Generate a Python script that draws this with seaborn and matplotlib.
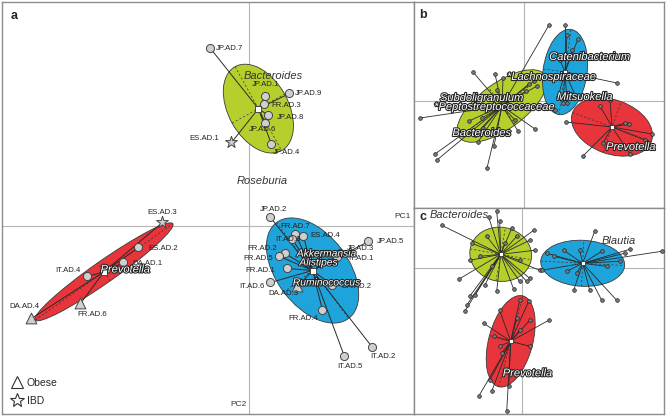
import numpy as np
import pandas as pd
import matplotlib
matplotlib.use("Agg")
import matplotlib.pyplot as plt
import seaborn as sns
from matplotlib.patches import Ellipse
from matplotlib.lines import Line2D
from matplotlib.collections import LineCollection
import matplotlib.patheffects as pe

sns.set_style("white")
plt.rcParams["font.family"] = ["Liberation Sans", "DejaVu Sans"]

GREEN = "#b7cf2c"
BLUE = "#1ea4da"
RED = "#e8343b"

# ---------------- panel a: individual samples (PC1, PC2) ----------------
bac_ids = ["JP.AD.7", "JP.AD.1", "JP.AD.9", "FR.AD.3", "JP.AD.8", "JP.AD.6", "JP.AD.4", "ES.AD.1"]
bac_pc1 = [-0.38, 0.17, 0.41, 0.16, 0.20, 0.17, 0.23, -0.17]
bac_pc2 = [1.78, 1.30, 1.33, 1.22, 1.11, 1.03, 0.82, 0.84]
bac_pheno = ["none", "none", "none", "none", "none", "none", "none", "IBD"]

prev_ids = ["ES.AD.3", "ES.AD.2", "DA.AD.1", "IT.AD.4", "FR.AD.6", "DA.AD.4"]
prev_pc1 = [-0.86, -1.10, -1.25, -1.61, -1.68, -2.17]
prev_pc2 = [0.04, -0.21, -0.36, -0.50, -0.77, -0.92]
prev_pheno = ["IBD", "none", "none", "none", "obese", "obese"]

rum_ids = ["JP.AD.2", "FR.AD.7", "IT.AD.3", "ES.AD.4", "JP.AD.5", "JP.AD.3", "IT.AD.1", "FR.AD.2",
           "FR.AD.5", "FR.AD.1", "IT.AD.6", "DA.AD.3", "DA.AD.2", "FR.AD.4", "IT.AD.5", "IT.AD.2"]
rum_pc1 = [0.22, 0.47, 0.44, 0.55, 1.20, 0.92, 0.89, 0.37, 0.31, 0.39, 0.22, 0.49, 0.84, 0.74, 0.96, 1.24]
rum_pc2 = [0.09, -0.08, -0.13, -0.10, -0.15, -0.27, -0.31, -0.27, -0.30, -0.42, -0.56, -0.60,
           -0.59, -0.84, -1.30, -1.21]
rum_pheno = ["none"] * 11 + ["obese"] + ["none"] * 4

# ellipse spread per enterotype (semi axes, angle in degrees)
a_major = [0.48, 0.84, 0.60]
a_minor = [0.30, 0.11, 0.36]
a_angle = [-61, 35, -53]

# ---------------- panel b ----------------
b_bac_x = [0.25, -0.51, -1.04, -0.89, -0.87, -0.37, 0.11, -0.06, -0.46, -0.29, -0.21, -0.42, -0.09,
           -0.27, 0.31, -0.41, -0.49, 0.05, 0.10, 0.13, 0.02, -0.05, -0.60, -0.55, -0.30]
b_bac_y = [0.76, 0.29, -0.17, -0.53, -0.59, -0.67, -0.28, -0.30, -0.41, 0.27, 0.23, -0.17, -0.19,
           0.11, -0.09, -0.27, -0.34, 0.17, 0.20, 0.15, 0.10, 0.05, -0.05, -0.20, -0.45]
b_blu_x = [0.41, 0.43, 0.54, 0.93, 0.39, 0.43, 0.29, 0.34, 0.48, 0.36, 0.51]
b_blu_y = [0.76, 0.66, 0.62, 0.18, -0.02, -0.02, 0.23, 0.04, 0.51, 0.41, 0.06]
b_red_x = [0.42, 0.59, 1.06, 1.28, 1.01, 1.05, 0.86, 0.76, 0.79, 1.21]
b_red_y = [-0.21, -0.55, -0.53, -0.33, -0.22, -0.23, 0.01, -0.05, -0.42, -0.39]
b_centroid = [(-0.22, -0.05), (0.41, 0.29), (0.88, -0.26)]
b_major = [0.53, 0.43, 0.42]
b_minor = [0.23, 0.22, 0.27]
b_angle = [36, 82, -20]

# ---------------- panel c ----------------
c_bac_x = [-0.25, -0.33, -0.80, -0.22, -0.10, 0.12, 0.08, 0.13, 0.18, 0.08, 0.05, -0.02, -0.08, -0.25,
           -0.37, -0.47, -0.52, -0.55, -0.57, -0.63, -0.52, -0.50, -0.17, -0.30, -0.42, -0.02, -0.05, -0.35]
c_bac_y = [0.57, 0.51, 0.43, 0.47, 0.40, 0.38, 0.28, 0.18, -0.02, -0.10, -0.13, -0.13, -0.21, -0.23,
           -0.17, -0.27, -0.28, -0.37, -0.43, -0.11, 0.08, 0.25, 0.25, 0.02, 0.12, 0.08, 0.32, 0.32]
c_blu_x = [0.73, 1.08, 1.40, 1.03, 0.98, 0.80, 0.95, 0.52, 0.68, 0.42, 0.32, 0.20, 0.45, 0.55,
           0.85, 0.80, 0.58, 0.25]
c_blu_y = [0.37, 0.19, 0.17, 0.15, 0.07, -0.32, -0.32, -0.22, -0.22, 0.18, 0.12, -0.02, -0.03, -0.05,
           0.02, 0.17, 0.18, 0.15]
c_red_x = [-0.38, 0.27, -0.02, 0.07, -0.22, -0.05, -0.43, -0.30, -0.15, -0.13, -0.32, 0.08, -0.22,
           -0.20, -0.02, 0.08, -0.28]
c_red_y = [-0.55, -0.52, -0.32, -0.33, -0.42, -0.50, -1.28, -1.23, -1.43, -1.18, -1.12, -0.52, -0.78,
           -0.85, -0.62, -0.78, -0.68]
c_centroid = [(-0.21, 0.14), (0.61, 0.05), (-0.11, -0.73)]
c_major = [0.31, 0.42, 0.47]
c_minor = [0.27, 0.23, 0.22]
c_angle = [-10, -3, 75]

# label placement for panel a samples: (dx px, dy px, ha)
LABEL_POS = {
    "JP.AD.7": (5, 0, "left"), "JP.AD.1": (0, 12, "center"), "JP.AD.9": (5, 0, "left"),
    "FR.AD.3": (7, -1, "left"), "JP.AD.8": (8, -2, "left"), "JP.AD.6": (-3, -6, "center"),
    "JP.AD.4": (1, -8, "left"), "ES.AD.1": (-12, 4, "right"),
    "ES.AD.3": (0, 10, "center"), "ES.AD.2": (10, -1, "left"), "DA.AD.1": (9, -1, "left"),
    "IT.AD.4": (-7, 6, "right"), "FR.AD.6": (-3, -11, "left"), "DA.AD.4": (-7, 12, "center"),
    "JP.AD.2": (3, 8, "center"), "FR.AD.7": (0, 8, "center"), "IT.AD.3": (8, 0, "right"),
    "ES.AD.4": (7, 1, "left"), "JP.AD.5": (8, 0, "left"), "JP.AD.3": (6, 5, "left"),
    "IT.AD.1": (11, -1, "left"), "FR.AD.2": (-8, 5, "right"), "FR.AD.5": (-7, -2, "right"),
    "FR.AD.1": (-12, -2, "right"), "IT.AD.6": (-6, -4, "right"), "DA.AD.3": (-14, -7, "center"),
    "DA.AD.2": (9, -1, "left"), "FR.AD.4": (-4, -8, "right"), "IT.AD.5": (5, -10, "center"),
    "IT.AD.2": (-2, -9, "left"),
}


def setup(ax, xlim, ylim):
    ax.set_xlim(*xlim)
    ax.set_ylim(*ylim)
    ax.set_xticks([])
    ax.set_yticks([])
    ax.set_xlabel("")
    ax.set_ylabel("")
    ax.axhline(0, color="#b5b5b5", lw=0.8, zorder=0)
    ax.axvline(0, color="#b5b5b5", lw=0.8, zorder=0)
    for s in ax.spines.values():
        s.set_color("#8c8c8c")
        s.set_linewidth(1.0)


def cluster(ax, cx, cy, xs, ys, major, minor, angle, color, lw=0.7, csize=20):
    e = Ellipse((cx, cy), 2 * major, 2 * minor, angle=angle, facecolor=color,
                edgecolor="#3a3a3a", lw=0.6, zorder=1)
    ax.add_patch(e)
    t = np.deg2rad(angle)
    for r, th in [(major, t), (minor, t + np.pi / 2)]:
        ax.plot([cx - r * np.cos(th), cx + r * np.cos(th)], [cy - r * np.sin(th), cy + r * np.sin(th)],
                ls=(0, (3, 3)), color="#333333", lw=0.5, zorder=2)
    segs = [[(cx, cy), (x, y)] for x, y in zip(xs, ys)]
    ax.add_collection(LineCollection(segs, colors="#2a2a2a", linewidths=lw, zorder=3))
    ax.scatter([cx], [cy], marker="s", s=csize, facecolor="white", edgecolor="#333333",
               linewidth=0.6, zorder=6)


def halo(ax, x, y, s, size=8, ha="center"):
    ax.text(x, y, s, fontsize=size, fontstyle="italic", color="white", ha=ha, va="center", zorder=8,
            path_effects=[pe.withStroke(linewidth=1.5, foreground="#222222")])


fig = plt.figure(figsize=(6.66, 4.18), dpi=100)
W, H = 666, 418
ax_a = fig.add_axes([2 / W, 4 / H, 412 / W, 412 / H])
ax_b = fig.add_axes([414 / W, 210 / H, 250 / W, 206 / H])
ax_c = fig.add_axes([414 / W, 4 / H, 250 / W, 206 / H])

# ---- panel a
setup(ax_a, (-2.465, 1.655), (-1.875, 2.245))
groups = [(bac_ids, bac_pc1, bac_pc2, bac_pheno, GREEN),
          (prev_ids, prev_pc1, prev_pc2, prev_pheno, RED),
          (rum_ids, rum_pc1, rum_pc2, rum_pheno, BLUE)]
frames = []
for i, (ids, xs, ys, ph, col) in enumerate(groups):
    cx, cy = np.mean(xs), np.mean(ys)
    cluster(ax_a, cx, cy, xs, ys, a_major[i], a_minor[i], a_angle[i], col)
    frames.append(pd.DataFrame({"id": ids, "pc1": xs, "pc2": ys, "pheno": ph}))
df_a = pd.concat(frames, ignore_index=True)
sns.scatterplot(data=df_a, x="pc1", y="pc2", style="pheno", size="pheno", ax=ax_a,
                markers={"none": "o", "obese": "^", "IBD": "*"},
                sizes={"none": 34, "obese": 60, "IBD": 80},
                color="#cfcfcf", edgecolor="#444444", linewidth=0.7, legend=False, zorder=5)
for _, r in df_a.iterrows():
    dx, dy, ha = LABEL_POS[r["id"]]
    ax_a.annotate(r["id"], (r["pc1"], r["pc2"]), xytext=(dx, dy), textcoords="offset pixels",
                  ha=ha, va="center", fontsize=5.6, color="#222222", zorder=7)

ax_a.text(0.25, 1.50, "Bacteroides", fontsize=8, fontstyle="italic", color="#333333", ha="center",
          va="center", zorder=8)
ax_a.text(0.14, 0.45, "Roseburia", fontsize=8, fontstyle="italic", color="#333333", ha="center",
          va="center", zorder=8)
halo(ax_a, 0.78, -0.27, "Akkermansia", size=7.4)
halo(ax_a, 0.70, -0.36, "Alistipes", size=7.4)
halo(ax_a, 0.78, -0.56, "Ruminococcus", size=7.4)
halo(ax_a, -1.23, -0.43, "Prevotella")
ax_a.set_xlabel("")
ax_a.set_ylabel("")
ax_a.text(1.54, 0.10, "PC1", fontsize=6, color="#333333", ha="center", va="center")
ax_a.text(-0.02, -1.78, "PC2", fontsize=6, color="#333333", ha="right", va="center")
ax_a.text(0.022, 0.967, "a", transform=ax_a.transAxes, fontsize=9, fontweight="bold", va="center")
handles = [Line2D([], [], marker="^", ls="", mfc="white", mec="#333333", ms=8, mew=0.8, label="Obese"),
           Line2D([], [], marker="*", ls="", mfc="white", mec="#333333", ms=10, mew=0.8, label="IBD")]
ax_a.legend(handles=handles, loc="lower left", bbox_to_anchor=(0.0, 0.0), frameon=False,
            fontsize=7.5, handletextpad=0.4, labelspacing=0.75, borderaxespad=0.4, handlelength=1.2)

# ---- panel b
setup(ax_b, (-1.10, 1.40), (-1.07, 0.99))
b_groups = [(b_bac_x, b_bac_y, GREEN), (b_blu_x, b_blu_y, BLUE), (b_red_x, b_red_y, RED)]
rows = []
for i, (xs, ys, col) in enumerate(b_groups):
    cx, cy = b_centroid[i]
    cluster(ax_b, cx, cy, xs, ys, b_major[i], b_minor[i], b_angle[i], col, lw=0.6, csize=8)
    rows.append(pd.DataFrame({"x": xs, "y": ys}))
sns.scatterplot(data=pd.concat(rows), x="x", y="y", ax=ax_b, s=7, color="#7a7a7a",
                edgecolor="#222222", linewidth=0.5, legend=False, zorder=5)
halo(ax_b, 0.66, 0.44, "Catenibacterium")
halo(ax_b, 0.28, 0.24, "*Lachnospiraceae")
halo(ax_b, -0.42, 0.03, "Subdoligranulum")
halo(ax_b, -0.29, -0.06, "*Peptostreptococcaceae")
halo(ax_b, 0.61, 0.04, "Mitsuokella")
halo(ax_b, -0.42, -0.32, "Bacteroides")
halo(ax_b, 1.07, -0.46, "Prevotella")
ax_b.set_xlabel("")
ax_b.set_ylabel("")
ax_b.text(0.02, 0.935, "b", transform=ax_b.transAxes, fontsize=9, fontweight="bold", va="center")

# ---- panel c
setup(ax_c, (-1.077, 1.423), (-1.457, 0.603))
c_groups = [(c_bac_x, c_bac_y, GREEN), (c_blu_x, c_blu_y, BLUE), (c_red_x, c_red_y, RED)]
rows = []
for i, (xs, ys, col) in enumerate(c_groups):
    cx, cy = c_centroid[i]
    cluster(ax_c, cx, cy, xs, ys, c_major[i], c_minor[i], c_angle[i], col, lw=0.6, csize=8)
    rows.append(pd.DataFrame({"x": xs, "y": ys}))
sns.scatterplot(data=pd.concat(rows), x="x", y="y", ax=ax_c, s=7, color="#7a7a7a",
                edgecolor="#222222", linewidth=0.5, legend=False, zorder=5)
ax_c.text(-0.92, 0.53, "Bacteroides", fontsize=8, fontstyle="italic", color="#333333", ha="left",
          va="center", zorder=8)
ax_c.text(0.97, 0.27, "Blautia", fontsize=8, fontstyle="italic", color="#333333", ha="center",
          va="center", zorder=8)
halo(ax_c, 0.06, -1.05, "Prevotella")
ax_c.set_xlabel("")
ax_c.set_ylabel("")
ax_c.text(0.02, 0.955, "c", transform=ax_c.transAxes, fontsize=9, fontweight="bold", va="center")

fig.savefig("out.png", dpi=100)
